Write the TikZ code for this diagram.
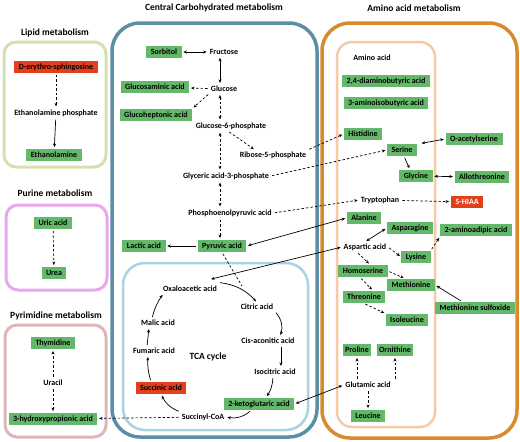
\documentclass[tikz,border=0pt]{standalone}
\usepackage{fontspec}
\setmainfont{Carlito}
\usetikzlibrary{arrows.meta}

\definecolor{hitgreen}{HTML}{63B86A}
\definecolor{hitred}{HTML}{E2401C}
\definecolor{carbblue}{HTML}{5B8FA8}
\definecolor{tcablue}{HTML}{A9D3E2}
\definecolor{aminoorange}{HTML}{D88A2C}
\definecolor{aminopeach}{HTML}{F5CBA7}
\definecolor{lipidolive}{HTML}{D6DFB0}
\definecolor{purineviolet}{HTML}{E8A8F0}
\definecolor{pyrimrose}{HTML}{DBB8B8}

\tikzset{
  met/.style={font=\fontsize{8}{9}\selectfont\bfseries, inner sep=1.5pt},
  upreg/.style={met, fill=hitgreen, inner xsep=4.5pt, minimum height=12.5pt},
  dnreg/.style={met, fill=hitred, inner xsep=4.5pt, minimum height=12.5pt},
  title/.style={font=\fontsize{9.5}{10}\selectfont\bfseries},
  pathway/.style={rounded corners=#1, line width=3pt},
  flux/.style={->, line width=0.7pt, shorten <=1.5pt, shorten >=1.5pt},
  guess/.style={flux, dash pattern=on 2.5pt off 2pt},
}

\begin{document}
\begin{tikzpicture}[x=1pt, y=-1pt, >={Stealth[length=3.5pt,width=3pt]}]
      \useasboundingbox (0,0) rectangle (520,442);

      \draw[pathway=12pt, lipidolive] (4,42) rectangle (106,167);
      \draw[pathway=12pt, purineviolet] (6,205) rectangle (107,290);
      \draw[pathway=12pt, pyrimrose] (5,325) rectangle (106,437);
      \draw[pathway=28pt, carbblue, line width=3.5pt] (112,23) rectangle (317,437);
      \draw[pathway=22pt, tcablue, line width=2.5pt] (123,263) rectangle (308,430);
      \draw[pathway=28pt, aminoorange, line width=3.5pt] (322,23) rectangle (517,438);
      \draw[pathway=15pt, aminopeach, line width=2.5pt] (337,42) rectangle (435,427);

      \node[title] (tlipid) at (55,33) {Lipid metabolism};
      \node[title] (tpurine) at (55,193) {Purine metabolism};
      \node[title] (tpyrim) at (56,316) {Pyrimidine metabolism};
      \node[title] (tcarb) at (214,8) {Central Carbohydrated metabolism};
      \node[title] (tamino) at (414,8) {Amino acid metabolism};

      % lipid
      \node[dnreg] (sphing) at (56,67) {D-erythro-sphingosine};
      \node[met] (etnp) at (56,113) {Ethanolamine phosphate};
      \node[upreg] (etn) at (54,155) {Ethanolamine};
      \draw[guess] (sphing) -- (etnp);
      \draw[flux] (etnp) -- (etn);

      % purine
      \node[upreg] (uric) at (53,223) {Uric acid};
      \node[upreg] (urea) at (54,273) {Urea};
      \draw[guess] (uric) -- (urea);

      % pyrimidine
      \node[upreg] (thymidine) at (53,343) {Thymidine};
      \node[met] (uracil) at (53,383) {Uracil};
      \node[upreg] (hpa) at (53,419) {3-hydroxypropionic acid};
      \draw[guess] (uracil) -- (thymidine);
      \draw[guess] (uracil) -- (hpa);

      % central carbohydrate
      \coordinate (spine) at (220,0);
      \node[upreg] (sorbitol) at (164,52) {Sorbitol};
      \node[met] (fructose) at (224,52) {Fructose};
      \node[met] (glucose) at (224,89) {Glucose};
      \node[upreg] (glucosaminic) at (155,87) {Glucosaminic acid};
      \node[upreg] (glucoheptonic) at (156,115) {Glucoheptonic acid};
      \node[met] (g6p) at (231,126) {Glucose-6-phosphate};
      \node[met] (ribose) at (273,155) {Ribose-5-phosphate};
      \node[met] (glyceric) at (226,176) {Glyceric acid-3-phosphate};
      \node[met] (pep) at (230,213) {Phosphoenolpyruvic acid};
      \node[upreg] (pyruvic) at (222,246) {Pyruvic acid};
      \node[upreg] (lactic) at (144,246) {Lactic acid};

      \draw[flux, <->] (sorbitol) -- (fructose);
      \draw[flux, <->] (fructose.south -| spine) -- (glucose.north -| spine);
      \draw[guess] (glucose) -- (glucosaminic);
      \draw[guess] (glucose.south west) -- (glucoheptonic.north east);
      \draw[guess, <->] (glucose.south -| spine) -- (g6p.north -| spine);
      \draw[guess, <->] (g6p.south -| spine) -- (glyceric.north -| spine);
      \draw[guess] ([xshift=-3pt]g6p.south) -- ([xshift=-18pt]ribose.north);
      \draw[guess, <->] (glyceric.south -| spine) -- (pep.north -| spine);
      \draw[guess] (pep.south -| spine) -- (pyruvic.north -| spine);
      \draw[flux] (pyruvic) -- (lactic);

      % TCA cycle
      \node[title] (tca) at (208,357) {TCA cycle};
      \node[met] (oxalo) at (190,289) {Oxaloacetic acid};
      \node[met] (citric) at (257,307) {Citric acid};
      \node[met] (cisacon) at (268,341) {Cis-aconitic acid};
      \node[met] (isocitric) at (275,372) {Isocitric acid};
      \node[upreg] (akg) at (259,404) {2-ketoglutaric acid};
      \node[met] (succoa) at (203,417) {Succinyl-CoA};
      \node[dnreg] (succinic) at (161,388) {Succinic acid};
      \node[met] (fumaric) at (154,351) {Fumaric acid};
      \node[met] (malic) at (158,323) {Malic acid};
      \coordinate (acetylcoa) at (242,286);

      \draw[dash pattern=on 2.5pt off 2pt, line width=0.7pt, shorten <=1.5pt] (pyruvic.south) -- (acetylcoa);
      \draw[flux] ([yshift=2pt]oxalo.north east) to[bend left=20] (citric.north);
      \draw[flux] (citric.south east) to[bend left=30] ([xshift=12pt]cisacon.north);
      \draw[flux] ([xshift=13pt]cisacon.south) -- ([xshift=6pt]isocitric.north);
      \draw[flux] ([xshift=-2pt]isocitric.south) to[bend left=15] ([xshift=7pt]akg.north);
      \draw[flux] ([xshift=-8pt]akg.south) to[bend left=25] (succoa.east);
      \draw[flux] (succoa.north west) to[bend left=20] (succinic.south);
      \draw[flux] ([xshift=-10pt]succinic.north) to[bend left=10] ([xshift=-6pt]fumaric.south);
      \draw[flux] ([xshift=-7pt]fumaric.north) -- ([xshift=-9pt]malic.south);
      \draw[flux] ([xshift=-6pt]malic.north) to[bend left=10] ([xshift=2pt]oxalo.south west);
      \draw[guess] (succoa) -- (hpa);

      % amino acids
      \node[met] (aminolabel) at (372,58) {Amino acid};
      \node[upreg] (dab) at (386,81) {2,4-diaminobutyric acid};
      \node[upreg] (baiba) at (386,103) {3-aminoisobutyric acid};
      \node[upreg] (histidine) at (363,134) {Histidine};
      \node[upreg] (serine) at (402,150) {Serine};
      \node[upreg] (oacetyl) at (474,139) {O-acetylserine};
      \node[upreg] (glycine) at (416,176) {Glycine};
      \node[upreg] (allothr) at (482,177) {Allothreonine};
      \node[met] (tryptophan) at (380,200) {Tryptophan};
      \node[dnreg, text=white] (hiaa) at (467,202) {5-HIAA};
      \node[upreg] (alanine) at (364,218) {Alanine};
      \node[upreg] (asparagine) at (410,228) {Asparagine};
      \node[upreg] (aminoadipic) at (476,230) {2-aminoadipic acid};
      \node[met] (aspartic) at (365,247) {Aspartic acid};
      \node[upreg] (lysine) at (416,257) {Lysine};
      \node[upreg] (homoserine) at (363,271) {Homoserine};
      \node[upreg] (methionine) at (411,285) {Methionine};
      \node[upreg] (threonine) at (364,297) {Threonine};
      \node[upreg] (msulfox) at (475,308) {Methionine sulfoxide};
      \node[upreg] (isoleucine) at (407,320) {Isoleucine};
      \node[upreg, inner xsep=2.5pt] (proline) at (357,350) {Proline};
      \node[upreg, inner xsep=2.5pt] (ornithine) at (395,350) {Ornithine};
      \node[met] (glutamic) at (368,385) {Glutamic acid};
      \node[upreg] (leucine) at (368,416) {Leucine};

      \draw[flux, <->] ([xshift=3pt]serine.north east) -- (oacetyl.west);
      \draw[flux] ([xshift=2pt]serine.south) -- ([xshift=-6pt]glycine.north);
      \draw[flux, <->] (glycine) -- (allothr);
      \draw[guess] (tryptophan) -- (hiaa);
      \draw[flux, <->] (aspartic.north) -- (asparagine.west);
      \draw[guess] (aspartic.east) -- (lysine.west);
      \draw[guess] ([xshift=-8pt]aspartic.south) -- ([xshift=7pt]homoserine.north);
      \draw[guess] (lysine.north east) -- (aminoadipic.south west);
      \draw[guess] (homoserine.east) -- ([xshift=-6pt]methionine.north);
      \draw[guess] ([xshift=-3pt]homoserine.south) -- ([xshift=9pt]threonine.north);
      \draw[guess] (threonine.south) -- (isoleucine.north west);
      \draw[flux] ([xshift=-13pt]msulfox.north) -- (methionine.east);
      \draw[guess] (glutamic.north -| proline.south) -- (proline.south);
      \draw[guess] (glutamic.north -| ornithine.south) -- (ornithine.south);
      \draw[guess] (glutamic) -- (leucine);

      % links between pathways
      \draw[guess] (ribose.north east) -- (histidine.west);
      \draw[guess] (glyceric.east) -- (serine.west);
      \draw[guess] (pep.east) -- (tryptophan.west);
      \draw[flux, <->] (pyruvic.east) -- (alanine.west);
      \draw[flux, <->] ([xshift=-9pt,yshift=5pt]oxalo.north east) -- (aspartic.west);
      \draw[flux, <->] (akg.east) -- (glutamic.west);
\end{tikzpicture}
\end{document}
